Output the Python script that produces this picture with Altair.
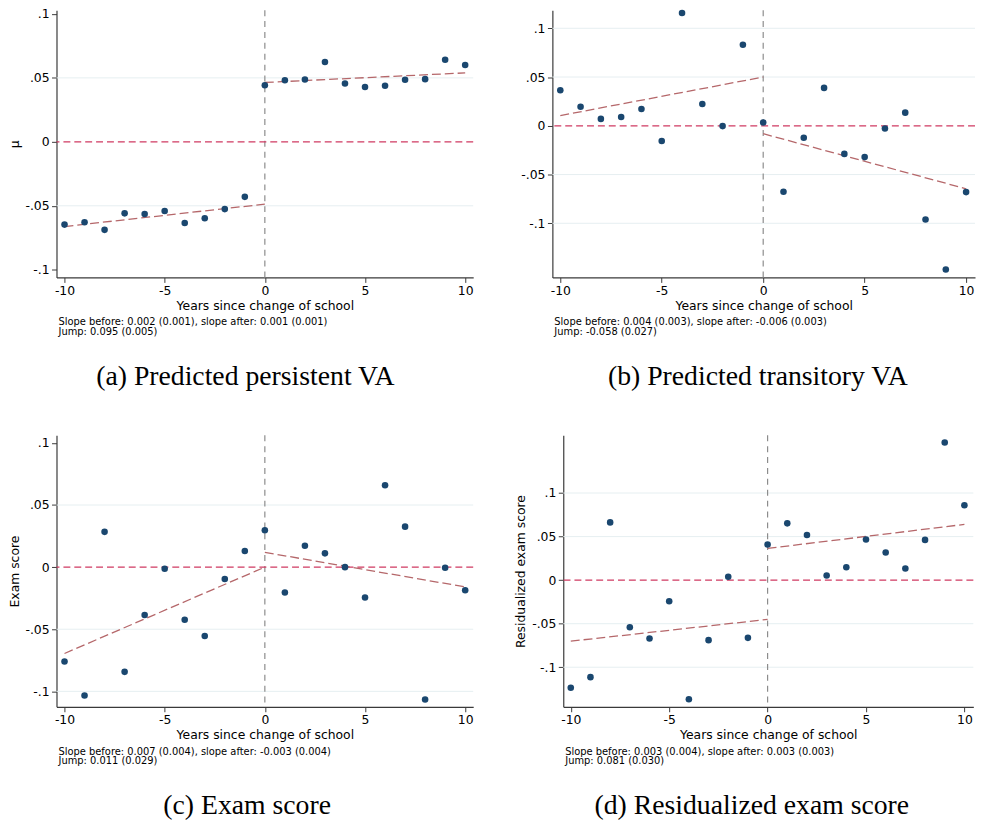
import altair as alt
import pandas as pd

years = list(range(-10, 11))

va_persistent = [-0.0647, -0.0629, -0.0688, -0.0559, -0.0564, -0.0541, -0.0634, -0.0598, -0.0526, -0.0430,
                 0.0443, 0.0482, 0.0487, 0.0624, 0.0456, 0.0428, 0.0438, 0.0485, 0.0490, 0.0642, 0.0601]
va_transitory = [0.0365, 0.0196, 0.0071, 0.0091, 0.0172, -0.0156, 0.1157, 0.0223, -0.0003, 0.0832,
                 0.0034, -0.0676, -0.0122, 0.0389, -0.0288, -0.0321, -0.0027, 0.0135, -0.0961, -0.1473, -0.0680]
exam_score = [-0.0759, -0.1034, 0.0284, -0.0843, -0.0385, -0.0013, -0.0424, -0.0554, -0.0095, 0.0130,
              0.0297, -0.0204, 0.0172, 0.0111, 0.0000, -0.0244, 0.0660, 0.0326, -0.1066, -0.0005, -0.0186]
resid_score = [-0.1235, -0.1114, 0.0663, -0.0542, -0.0670, -0.0242, -0.1367, -0.0689, 0.0038, -0.0663,
               0.0409, 0.0652, 0.0519, 0.0053, 0.0148, 0.0466, 0.0318, 0.0133, 0.0462, 0.1580, 0.0860]

fit_x = [-10, 0, 0, 10]
fit_seg = ["before", "before", "after", "after"]
fit_persistent = [-0.0662, -0.0487, 0.0464, 0.0539]
fit_transitory = [0.0105, 0.0500, -0.0081, -0.0646]
fit_exam = [-0.0695, 0.0000, 0.0119, -0.0159]
fit_resid = [-0.0701, -0.0451, 0.0364, 0.0640]

x_ticks = [-10, -5, 0, 5, 10]
x_tick_labels = ["-10", "-5", "0", "5", "10"]
y_ticks = [0.1, 0.05, 0, -0.05, -0.1]
y_tick_labels = [".1", ".05", "0", "-.05", "-.1"]

notes_a = ["Slope before: 0.002 (0.001), slope after: 0.001 (0.001)", "Jump: 0.095 (0.005)"]
notes_b = ["Slope before: 0.004 (0.003), slope after: -0.006 (0.003)", "Jump: -0.058 (0.027)"]
notes_c = ["Slope before: 0.007 (0.004), slope after: -0.003 (0.004)", "Jump: 0.011 (0.029)"]
notes_d = ["Slope before: 0.003 (0.004), slope after: 0.003 (0.003)", "Jump: 0.081 (0.030)"]

DOT = "#1a476f"
FIT = "#b5676a"
ZERO = "#d03a62"
VLINE = "#8c8c8c"
GRID = "#e6eff1"
AXIS = "#3a3a3a"
FONT = "DejaVu Sans"


def label_expr(vals, labels):
    parts = [f"abs(datum.value - ({v})) < 1e-9 ? '{l}'" for v, l in zip(vals, labels)]
    return " : ".join(parts) + " : ''"


def panel(values, fit_values, ytitle, notes, subtitle, width, height, xdom, ydom, grid_vals, title_dx):
    pts = pd.DataFrame({"t": years, "v": values})
    fit = pd.DataFrame({"t": fit_x, "v": fit_values, "seg": fit_seg})
    grid = pd.DataFrame({"v": grid_vals})
    zero = pd.DataFrame({"v": [0.0]})
    cut = pd.DataFrame({"t": [0.0]})
    note = pd.DataFrame({"n": [0]})

    xs = alt.Scale(domain=xdom, nice=False, zero=False)
    ys = alt.Scale(domain=ydom, nice=False, zero=False)
    xax = alt.Axis(values=x_ticks, labelExpr=label_expr(x_ticks, x_tick_labels),
                   title="Years since change of school", grid=False, labelPadding=2,
                   titlePadding=2.5, labelFlush=False, labelOverlap=False)
    yax = alt.Axis(values=y_ticks, labelExpr=label_expr(y_ticks, y_tick_labels),
                   title=ytitle, grid=False, labelPadding=2.5, titlePadding=3.9,
                   labelFlush=False, labelOverlap=False)
    X = alt.X("t:Q", scale=xs, axis=xax)
    Y = alt.Y("v:Q", scale=ys, axis=yax)

    g = alt.Chart(grid).mark_rule(color=GRID, strokeWidth=1).encode(y=Y)
    z = alt.Chart(zero).mark_rule(color=ZERO, strokeWidth=1.3, strokeDash=[7, 4]).encode(y=Y)
    c = alt.Chart(cut).mark_rule(color=VLINE, strokeWidth=1.2, strokeDash=[6, 5]).encode(x=X)
    f = alt.Chart(fit).mark_line(color=FIT, strokeWidth=1.3, strokeDash=[9, 4]).encode(
        x=X, y=Y, detail="seg:N")
    p = alt.Chart(pts).mark_circle(color=DOT, size=44, opacity=1).encode(x=X, y=Y)
    n = alt.Chart(note).mark_text(align="left", baseline="alphabetic", fontSize=10, lineHeight=10,
                                  font=FONT, color="black").encode(
        x=alt.value(2), y=alt.value(height + 48.3), text=alt.value(notes))
    return alt.layer(g, c, z, f, p, n).properties(
        width=width, height=height,
        title=alt.TitleParams(text=subtitle, orient="bottom", anchor="middle", frame="group",
                              font="Liberation Serif", fontSize=28, fontWeight="normal",
                              color="black", offset=26.5, dx=title_dx))


H1 = 270
H2 = 274.3
pa = panel(va_persistent, fit_persistent, "μ", notes_a, "(a) Predicted persistent VA",
           421, H1, [-10.4, 10.4], [-0.106, 0.1029], [0.05, -0.05], -19.7)
pb = panel(va_transitory, fit_transitory, "", notes_b, "(b) Predicted transitory VA",
           427, H1, [-10.39, 10.439], [-0.15553, 0.11858], [0.1, 0.05, -0.05, -0.1], -5.9)
pc = panel(exam_score, fit_exam, "Exam score", notes_c, "(c) Exam score",
           421, H2, [-10.4, 10.4], [-0.11243, 0.10614], [0.05, -0.05, -0.1], -17.9)
pd_ = panel(resid_score, fit_resid, "Residualized exam score", notes_d, "(d) Residualized exam score",
            414.3, H2, [-10.382, 10.453], [-0.14545, 0.16629], [0.1, 0.05, -0.05, -0.1], -16.65)

row1 = alt.hconcat(pa, pb, spacing=47)
row2 = alt.hconcat(pc, pd_, spacing=41)

chart = alt.vconcat(row1, row2, spacing=43.5).properties(
    padding={"top": -5, "left": 0, "right": 0, "bottom": 0}, background="white"
).configure_view(stroke=None).configure_axis(
    domainColor=AXIS, domainWidth=1.2, tickColor=AXIS, tickSize=5, tickWidth=1,
    labelFont=FONT, labelFontSize=12.5, labelColor="black",
    titleFont=FONT, titleFontSize=12.5, titleFontWeight="normal", titleColor="black"
)

chart.save("out.html", embed_options={"renderer": "svg", "actions": False})
